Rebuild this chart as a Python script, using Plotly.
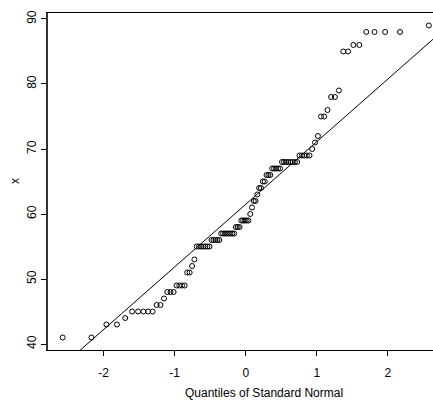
import numpy as np
import plotly.graph_objects as go
from statistics import NormalDist

# Sample values (sorted)
sample_values = [
    41, 41, 43, 43, 44, 45, 45, 45, 45, 45,
    46, 46, 47, 48, 48, 48, 49, 49, 49, 49,
    51, 51, 52, 53, 55, 55, 55, 55, 55, 55,
    55, 56, 56, 56, 56, 56, 57, 57, 57, 57,
    57, 57, 57, 57, 58, 58, 58, 59, 59, 59,
    59, 59, 60, 61, 62, 62, 63, 64, 64, 65,
    65, 66, 66, 66, 67, 67, 67, 67, 67, 68,
    68, 68, 68, 68, 68, 68, 68, 69, 69, 69,
    69, 69, 70, 71, 72, 75, 75, 76, 78, 78,
    79, 85, 85, 86, 86, 88, 88, 88, 88, 89,
]
x_ticks = [-2, -1, 0, 1, 2]
y_ticks = [40, 50, 60, 70, 80, 90]
x_label = "Quantiles of Standard Normal"
y_label = "x"

n = len(sample_values)
nd = NormalDist()
a = 0.375 if n <= 10 else 0.5
theo = [nd.inv_cdf((i + 1 - a) / (n + 1 - 2 * a)) for i in range(n)]
ys = sorted(sample_values)

# qqline through the quartiles
q1, q3 = np.percentile(ys, [25, 75])
t1, t3 = nd.inv_cdf(0.25), nd.inv_cdf(0.75)
slope = (q3 - q1) / (t3 - t1)
intercept = q1 - slope * t1

xr = [-2.782, 2.634]
yr = [39.08, 90.92]

FONT = "Liberation Sans, Arial, Helvetica, sans-serif"
FS = 12

fig = go.Figure()
fig.add_trace(go.Scatter(
    x=[xr[0] - 1, xr[1] + 1],
    y=[intercept + slope * (xr[0] - 1), intercept + slope * (xr[1] + 1)],
    mode="lines", line=dict(color="black", width=1), hoverinfo="skip",
))
fig.add_trace(go.Scatter(
    x=theo, y=ys, mode="markers",
    marker=dict(symbol="circle-open", size=5, color="black", line=dict(width=1, color="black")),
    cliponaxis=False,
))

fig.update_layout(
    width=433, height=401,
    margin=dict(l=48, r=0, t=13, b=51),
    paper_bgcolor="white", plot_bgcolor="white",
    showlegend=False,
    font=dict(family=FONT, size=FS, color="black"),
    xaxis=dict(
        range=xr, tickvals=x_ticks, ticktext=[str(v) for v in x_ticks],
        showgrid=False, zeroline=False,
        showline=True, linecolor="black", linewidth=1, mirror=True,
        ticks="outside", ticklen=5, tickcolor="black", tickwidth=1,
        ticklabelstandoff=7,
        tickfont=dict(family=FONT, size=FS, color="black"),
    ),
    yaxis=dict(
        range=yr, tickvals=y_ticks, ticktext=[str(v) for v in y_ticks],
        showgrid=False, zeroline=False,
        showline=True, linecolor="#333333", linewidth=2, mirror=False,
        ticks="outside", ticklen=5, tickcolor="black", tickwidth=1,
        tickangle=-90,
        tickfont=dict(family=FONT, size=FS, color="black"),
    ),
    annotations=[
        dict(text=x_label, xref="paper", yref="paper",
             x=(264 - 48) / 385, y=(350 - 393) / 337,
             xanchor="center", yanchor="middle", showarrow=False,
             font=dict(family=FONT, size=FS, color="black")),
        dict(text=y_label, xref="paper", yref="paper",
             x=(15 - 48) / 385, y=(350 - 181) / 337,
             xanchor="center", yanchor="middle", textangle=-90, showarrow=False,
             font=dict(family=FONT, size=FS, color="black")),
    ],
)

fig.write_html("out.html")
